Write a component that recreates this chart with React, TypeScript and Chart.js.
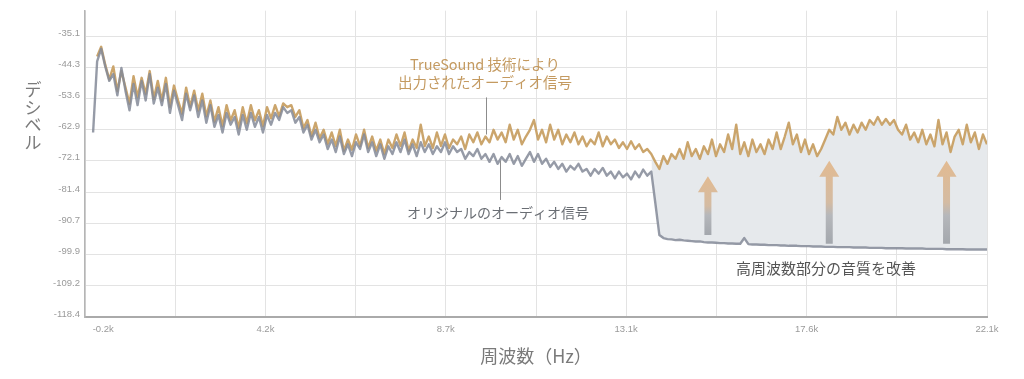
import React, { useEffect, useRef } from 'react';
import { Chart, registerables } from 'chart.js';

Chart.register(...registerables);

// ---------- data ----------
const FREQ_START_KHZ = 0;
const FREQ_STEP_KHZ = 0.1;

const originalDb: number[] = [
  -63.7, -42.6, -38.9, -44.1, -48.4, -46.4, -52.7, -44.6, -51.3, -57.1,
  -49.3, -55.6, -48.4, -54.2, -46.4, -55.1, -50.4, -55.6, -49.3, -57.9,
  -51.3, -55.6, -60.0, -52.2, -57.1, -52.7, -59.1, -54.2, -60.8, -55.6,
  -62.0, -58.5, -63.7, -57.9, -61.4, -59.1, -64.3, -58.5, -62.9, -57.9,
  -62.0, -59.1, -63.7, -58.5, -61.4, -57.9, -60.0, -56.2, -57.9, -57.1,
  -60.8, -59.1, -63.7, -61.4, -65.8, -62.9, -66.6, -64.3, -68.6, -65.8,
  -69.5, -64.9, -70.1, -67.2, -70.7, -66.6, -68.6, -64.3, -69.5, -66.6,
  -70.7, -67.2, -71.5, -67.8, -70.1, -66.6, -69.5, -65.8, -70.1, -67.2,
  -70.7, -66.6, -69.5, -67.2, -70.1, -67.8, -69.5, -66.6, -70.1, -67.8,
  -69.5, -68.6, -71.5, -69.5, -70.7, -68.6, -71.5, -70.1, -72.4, -70.1,
  -73.0, -71.0, -72.4, -70.1, -73.0, -70.7, -73.6, -71.5, -69.5, -72.4,
  -70.1, -73.0, -71.5, -73.9, -72.4, -74.5, -73.0, -75.3, -73.6, -74.7,
  -73.0, -75.3, -74.5, -76.5, -74.5, -75.9, -74.2, -76.5, -75.3, -77.3,
  -75.3, -77.0, -75.9, -77.6, -75.3, -77.0, -74.7, -76.5, -75.3, -84.6,
  -94.1, -95.0, -95.3, -95.4, -95.6, -95.5, -95.7, -95.8, -95.9, -96.0,
  -96.0, -96.2, -96.3, -96.3, -96.4, -96.5, -96.5, -96.6, -96.6, -96.7,
  -96.7, -95.0, -96.8, -96.9, -96.9, -97.0, -97.0, -97.1, -97.1, -97.1,
  -97.2, -97.2, -97.3, -97.3, -97.3, -97.4, -97.4, -97.4, -97.5, -97.5,
  -97.5, -97.6, -97.6, -97.6, -97.7, -97.7, -97.7, -97.7, -97.8, -97.8,
  -97.8, -97.8, -97.9, -97.9, -97.9, -97.9, -98.0, -98.0, -98.0, -98.0,
  -98.0, -98.1, -98.1, -98.1, -98.1, -98.1, -98.2, -98.2, -98.2, -98.2,
  -98.2, -98.3, -98.3, -98.3, -98.3, -98.3, -98.4, -98.4, -98.4, -98.4,
  -98.4, -98.4,
];

const trueSoundDb: (number | null)[] = [
  null, -41.2, -38.3, -43.6, -48.0, -44.1, -51.4, -45.5, -50.3, -55.2,
  -47.0, -53.2, -47.5, -52.3, -45.5, -53.7, -48.4, -54.3, -47.5, -56.1,
  -49.8, -54.2, -58.1, -50.4, -56.1, -51.3, -57.2, -52.2, -58.9, -54.2,
  -60.5, -56.2, -61.8, -55.6, -60.1, -57.1, -62.4, -56.2, -61.0, -55.6,
  -60.1, -57.1, -61.8, -56.2, -59.5, -55.6, -58.9, -55.1, -56.2, -55.6,
  -59.1, -57.1, -62.4, -60.0, -64.8, -60.8, -65.4, -62.9, -67.1, -63.7,
  -67.7, -62.9, -69.1, -65.8, -68.8, -64.3, -67.7, -62.9, -68.3, -64.9,
  -69.1, -65.8, -70.0, -65.8, -68.3, -64.3, -67.7, -63.7, -69.1, -65.8,
  -68.3, -61.4, -67.7, -64.9, -68.3, -63.7, -67.7, -64.3, -68.3, -65.8,
  -67.2, -64.9, -68.6, -64.3, -66.6, -63.7, -67.2, -64.9, -66.6, -62.9,
  -65.8, -63.7, -66.6, -61.4, -65.8, -62.9, -67.2, -64.9, -62.9, -60.0,
  -65.8, -62.9, -66.6, -61.4, -65.8, -62.9, -67.2, -64.3, -66.6, -63.7,
  -67.2, -64.9, -67.8, -65.8, -67.2, -63.7, -67.8, -64.9, -67.2, -65.8,
  -68.3, -66.6, -68.6, -66.3, -68.6, -67.2, -69.5, -68.6, -70.1, -72.4,
  -74.5, -70.7, -73.0, -70.1, -71.5, -68.6, -71.5, -66.6, -70.7, -68.6,
  -71.5, -67.8, -70.1, -65.8, -70.7, -67.2, -69.5, -64.3, -68.6, -61.4,
  -70.1, -66.6, -70.7, -65.8, -69.5, -67.2, -70.1, -65.8, -68.6, -63.7,
  -68.6, -64.9, -60.8, -67.2, -64.3, -69.5, -65.8, -70.1, -67.2, -70.7,
  -68.6, -65.8, -62.9, -64.3, -59.1, -62.9, -60.8, -64.3, -61.4, -63.7,
  -60.8, -62.9, -60.0, -61.4, -59.1, -61.4, -59.7, -61.4, -60.0, -62.9,
  -64.3, -61.4, -65.8, -63.7, -66.6, -62.9, -67.2, -64.3, -67.8, -60.0,
  -67.2, -63.7, -69.5, -64.9, -62.9, -67.2, -61.4, -66.6, -63.7, -68.6,
  -64.3, -67.2,
];

const yTickValues = [-118.4, -109.2, -99.9, -90.7, -81.4, -72.1, -62.9, -53.6, -44.3, -35.1];
const Y_MIN = -118.4;
const Y_MAX = -27.6;

const X_MIN = -0.2;
const X_MAX = 22.1;
const xGridValues = [-0.2, 2.03, 4.26, 6.49, 8.72, 10.95, 13.18, 15.41, 17.64, 19.87, 22.1];
const xLabelValues = [0.25, 4.26, 8.72, 13.18, 17.64, 22.1];
const xLabelTexts = ['-0.2k', '4.2k', '8.7k', '13.1k', '17.6k', '22.1k'];

const SHADE_START_KHZ = 13.8;

const arrowKHz = [15.2, 18.2, 21.1];
const arrowTipDb = [-76.7, -72.1, -72.1];
const arrowBaseDb = [-94.1, -96.7, -96.7];

const trueSoundLabel = ['TrueSound 技術により', '出力されたオーディオ信号'];
const trueSoundLabelPos = { x: 9.69, y: [-43.5, -49.0] };
const trueSoundLeader = { x: 9.71, y1: -53.3, y2: -64.3 };

const originalLabel = 'オリジナルのオーディオ信号';
const originalLabelPos = { x: 10.01, y: -87.4 };
const originalLeader = { x: 10.06, y1: -72.1, y2: -83.7 };

const improveLabel = '高周波数部分の音質を改善';
const improveLabelPos = { x: 18.12, y: -104.0 };

const yTitleChars = ['デ', 'シ', 'ベ', 'ル'];
const xTitle = '周波数（Hz）';

// ---------- styling ----------
const JP_FONT = '"Noto Sans CJK JP", "Noto Sans", sans-serif';
const TICK_FONT = '"Liberation Sans", Arial, sans-serif';
const ORANGE = 'rgba(200,160,100,0.95)';
const GRAY_LINE = 'rgba(132,138,152,0.85)';
const SHADE = '#e6e9ec';

const toPoints = (arr: (number | null)[]) =>
  arr.map((v, i) => ({ x: +(FREQ_START_KHZ + i * FREQ_STEP_KHZ).toFixed(2), y: v }));

const annotationPlugin = {
  id: 'customAnnotations',
  afterDatasetsDraw(chart: any) {
    const { ctx, scales } = chart;
    const xs = scales.x;
    const ys = scales.y;
    ctx.save();

    // arrows
    arrowKHz.forEach((k, i) => {
      const px = xs.getPixelForValue(k);
      const top = ys.getPixelForValue(arrowTipDb[i]);
      const bot = ys.getPixelForValue(arrowBaseDb[i]);
      const headH = 16;
      const headW = 10;
      const shaftW = 3.5;
      const g = ctx.createLinearGradient(0, top, 0, bot);
      g.addColorStop(0, 'rgba(226,184,140,0.95)');
      g.addColorStop(0.5, 'rgba(210,182,154,0.9)');
      g.addColorStop(0.66, 'rgba(176,178,182,0.9)');
      g.addColorStop(1, 'rgba(156,160,166,0.9)');
      ctx.fillStyle = g;
      ctx.beginPath();
      ctx.moveTo(px, top);
      ctx.lineTo(px + headW, top + headH);
      ctx.lineTo(px + shaftW, top + headH);
      ctx.lineTo(px + shaftW, bot);
      ctx.lineTo(px - shaftW, bot);
      ctx.lineTo(px - shaftW, top + headH);
      ctx.lineTo(px - headW, top + headH);
      ctx.closePath();
      ctx.fill();
    });

    // leader lines
    ctx.strokeStyle = '#8c8c8c';
    ctx.lineWidth = 1;
    [trueSoundLeader, originalLeader].forEach((l) => {
      const px = Math.round(xs.getPixelForValue(l.x)) + 0.5;
      ctx.beginPath();
      ctx.moveTo(px, ys.getPixelForValue(l.y1));
      ctx.lineTo(px, ys.getPixelForValue(l.y2));
      ctx.stroke();
    });

    // texts
    ctx.textAlign = 'center';
    ctx.textBaseline = 'middle';
    ctx.font = `14.5px ${JP_FONT}`;
    ctx.fillStyle = '#c49a60';
    trueSoundLabel.forEach((t, i) => {
      ctx.fillText(t, xs.getPixelForValue(trueSoundLabelPos.x), ys.getPixelForValue(trueSoundLabelPos.y[i]));
    });
    ctx.font = `14px ${JP_FONT}`;
    ctx.fillStyle = '#6a6e74';
    ctx.fillText(originalLabel, xs.getPixelForValue(originalLabelPos.x), ys.getPixelForValue(originalLabelPos.y));
    ctx.font = `15px ${JP_FONT}`;
    ctx.fillStyle = '#555555';
    ctx.fillText(improveLabel, xs.getPixelForValue(improveLabelPos.x), ys.getPixelForValue(improveLabelPos.y));
    ctx.restore();
  },
  afterDraw(chart: any) {
    const { ctx, chartArea } = chart;
    ctx.save();
    ctx.textAlign = 'center';
    ctx.textBaseline = 'middle';
    ctx.fillStyle = '#7a7a7a';
    ctx.font = `17px ${JP_FONT}`;
    const cx = chartArea.left - 52;
    yTitleChars.forEach((c, i) => {
      ctx.fillText(c, cx, 90 + i * 17.5);
    });
    ctx.font = `18px ${JP_FONT}`;
    ctx.fillText(xTitle, (chartArea.left + chartArea.right) / 2, chartArea.bottom + 39);
    ctx.restore();
  },
};

export default function App() {
  const canvasRef = useRef<HTMLCanvasElement | null>(null);

  useEffect(() => {
    document.body.style.margin = '0';
    const canvas = canvasRef.current;
    if (!canvas) return;

    const chart = new Chart(canvas, {
      type: 'line',
      data: {
        datasets: [
          {
            label: 'オリジナルのオーディオ信号',
            data: toPoints(originalDb),
            borderColor: GRAY_LINE,
            borderWidth: 2.4,
            borderJoinStyle: 'round',
            pointRadius: 0,
            tension: 0,
            fill: { target: 1 },
            backgroundColor: (c: any) => {
              const ch = c.chart;
              const area = ch.chartArea;
              if (!area) return 'rgba(0,0,0,0)';
              const xp = ch.scales.x.getPixelForValue(SHADE_START_KHZ);
              const g = ch.ctx.createLinearGradient(area.left, 0, area.right, 0);
              const t = Math.max(0, Math.min(1, (xp - area.left) / (area.right - area.left)));
              g.addColorStop(0, 'rgba(230,233,236,0)');
              g.addColorStop(t, 'rgba(230,233,236,0)');
              g.addColorStop(Math.min(1, t + 0.001), SHADE);
              g.addColorStop(1, SHADE);
              return g;
            },
          },
          {
            label: 'TrueSound',
            data: toPoints(trueSoundDb),
            borderColor: ORANGE,
            borderWidth: 2.4,
            borderJoinStyle: 'round',
            pointRadius: 0,
            tension: 0,
            fill: false,
          },
        ],
      },
      options: {
        animation: false,
        responsive: false,
        events: [],
        layout: { padding: { left: 0, right: 37, top: 3, bottom: 0 } },
        plugins: {
          legend: { display: false },
          tooltip: { enabled: false },
          title: { display: false },
          filler: { drawTime: 'beforeDatasetsDraw' },
        },
        scales: {
          x: {
            type: 'linear',
            min: X_MIN,
            max: X_MAX,
            afterFit: (s: any) => {
              s.height = 62;
            },
            afterBuildTicks: (s: any) => {
              const vals = Array.from(new Set([...xGridValues, ...xLabelValues])).sort((a, b) => a - b);
              s.ticks = vals.map((v) => ({ value: v }));
            },
            ticks: {
              autoSkip: false,
              maxRotation: 0,
              padding: 7,
              color: '#9a9a9a',
              font: { family: TICK_FONT, size: 9.5 },
              callback: (v: any) => {
                const idx = xLabelValues.indexOf(Number(v));
                return idx >= 0 ? xLabelTexts[idx] : '';
              },
            },
            grid: {
              drawTicks: false,
              lineWidth: 1,
              color: (c: any) =>
                c.tick && xGridValues.includes(c.tick.value) ? '#e3e3e3' : 'rgba(0,0,0,0)',
            },
            border: { color: '#aaaaaa', width: 2 },
          },
          y: {
            type: 'linear',
            min: Y_MIN,
            max: Y_MAX,
            afterFit: (s: any) => {
              s.width = 85;
            },
            afterBuildTicks: (s: any) => {
              s.ticks = yTickValues.map((v) => ({ value: v }));
            },
            ticks: {
              autoSkip: false,
              padding: 5,
              labelOffset: -3,
              color: '#9a9a9a',
              font: { family: TICK_FONT, size: 9.5 },
              callback: (v: any) => Number(v).toFixed(1),
            },
            grid: {
              drawTicks: false,
              color: '#e3e3e3',
              lineWidth: 1,
            },
            border: { color: '#b5b5b5', width: 1.5 },
          },
        },
      },
      plugins: [annotationPlugin],
    } as any);

    return () => {
      chart.destroy();
    };
  }, []);

  return (
    <div style={{ width: 1024, height: 379, position: 'relative', background: '#ffffff' }}>
      <canvas ref={canvasRef} width={1024} height={379} style={{ display: 'block' }} />
    </div>
  );
}
